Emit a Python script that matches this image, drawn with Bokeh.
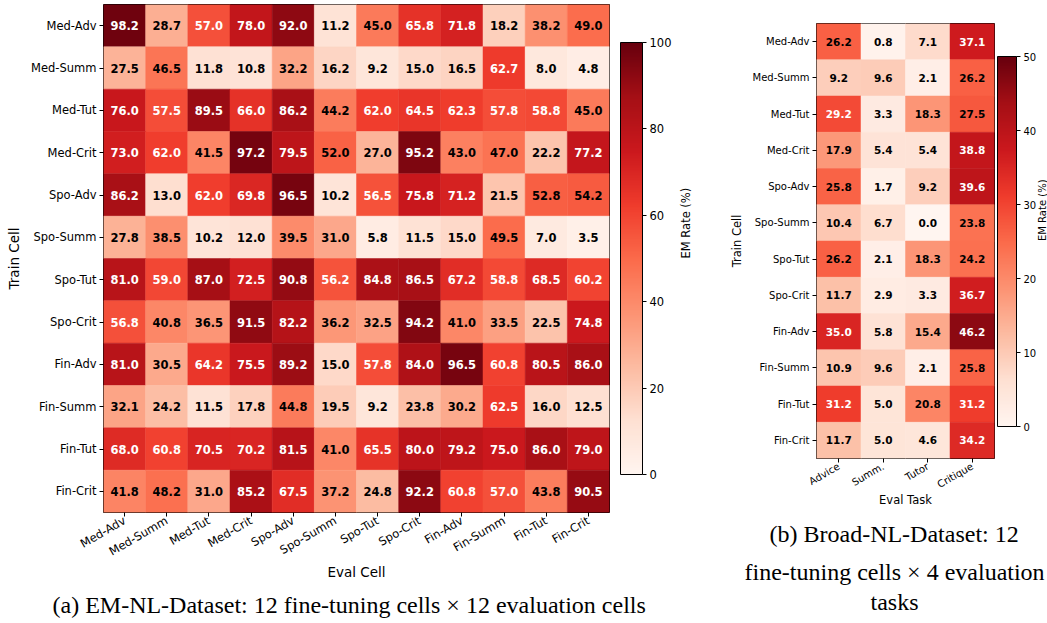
import math
from bokeh.plotting import figure
from bokeh.models import (ColumnDataSource, FactorRange, LinearColorMapper, ColorBar,
                          FixedTicker, Title, CategoricalAxis)
from bokeh.layouts import row, column
from bokeh.palettes import Reds256
from bokeh.core.properties import value
from bokeh.embed import file_html
from bokeh.resources import INLINE

# ---------------- data ----------------
train_cells = ["Med-Adv", "Med-Summ", "Med-Tut", "Med-Crit",
               "Spo-Adv", "Spo-Summ", "Spo-Tut", "Spo-Crit",
               "Fin-Adv", "Fin-Summ", "Fin-Tut", "Fin-Crit"]
eval_cells = list(train_cells)
eval_tasks = ["Advice", "Summ.", "Tutor", "Critique"]

em_nl = [
    [98.2, 28.7, 57.0, 78.0, 92.0, 11.2, 45.0, 65.8, 71.8, 18.2, 38.2, 49.0],
    [27.5, 46.5, 11.8, 10.8, 32.2, 16.2, 9.2, 15.0, 16.5, 62.7, 8.0, 4.8],
    [76.0, 57.5, 89.5, 66.0, 86.2, 44.2, 62.0, 64.5, 62.3, 57.8, 58.8, 45.0],
    [73.0, 62.0, 41.5, 97.2, 79.5, 52.0, 27.0, 95.2, 43.0, 47.0, 22.2, 77.2],
    [86.2, 13.0, 62.0, 69.8, 96.5, 10.2, 56.5, 75.8, 71.2, 21.5, 52.8, 54.2],
    [27.8, 38.5, 10.2, 12.0, 39.5, 31.0, 5.8, 11.5, 15.0, 49.5, 7.0, 3.5],
    [81.0, 59.0, 87.0, 72.5, 90.8, 56.2, 84.8, 86.5, 67.2, 58.8, 68.5, 60.2],
    [56.8, 40.8, 36.5, 91.5, 82.2, 36.2, 32.5, 94.2, 41.0, 33.5, 22.5, 74.8],
    [81.0, 30.5, 64.2, 75.5, 89.2, 15.0, 57.8, 84.0, 96.5, 60.8, 80.5, 86.0],
    [32.1, 24.2, 11.5, 17.8, 44.8, 19.5, 9.2, 23.8, 30.2, 62.5, 16.0, 12.5],
    [68.0, 60.8, 70.5, 70.2, 81.5, 41.0, 65.5, 80.0, 79.2, 75.0, 86.0, 79.0],
    [41.8, 48.2, 31.0, 85.2, 67.5, 37.2, 24.8, 92.2, 60.8, 57.0, 43.8, 90.5],
]

broad_nl = [
    [26.2, 0.8, 7.1, 37.1],
    [9.2, 9.6, 2.1, 26.2],
    [29.2, 3.3, 18.3, 27.5],
    [17.9, 5.4, 5.4, 38.8],
    [25.8, 1.7, 9.2, 39.6],
    [10.4, 6.7, 0.0, 23.8],
    [26.2, 2.1, 18.3, 24.2],
    [11.7, 2.9, 3.3, 36.7],
    [35.0, 5.8, 15.4, 46.2],
    [10.9, 9.6, 2.1, 25.8],
    [31.2, 5.0, 20.8, 31.2],
    [11.7, 5.0, 4.6, 34.2],
]

em_ticks = [0, 20, 40, 60, 80, 100]
broad_ticks = [0, 10, 20, 30, 40, 50]

caption_a = "(a) EM-NL-Dataset: 12 fine-tuning cells \u00d7 12 evaluation cells"
caption_b = ["(b) Broad-NL-Dataset: 12", "fine-tuning cells \u00d7 4 evaluation", "tasks"]

# ---------------- style ----------------
pal = list(Reds256)
def _lum(h):
    h = h.lstrip("#")
    return sum(int(h[i:i + 2], 16) for i in (0, 2, 4))
if _lum(pal[0]) < _lum(pal[-1]):
    pal = pal[::-1]  # light -> dark

SANS = "DejaVu Sans"
SERIF = "Liberation Serif"


def heatmap(matrix, xcats, vmax, ticks, fw, fh, bl, br, bt, bb,
            tick_fs, val_fs, lab_fs, cb_w, cb_h, cb_pad, xlabel, xl_standoff,
            cb_label_standoff):
    mapper = LinearColorMapper(palette=pal, low=0, high=vmax)
    xs, ys, vs, txt, tc = [], [], [], [], []
    for i, r in enumerate(train_cells):
        for j, c in enumerate(xcats):
            v = matrix[i][j]
            xs.append(c); ys.append(r); vs.append(v)
            txt.append(f"{v:.1f}")
            tc.append("white" if v > 0.55 * vmax else "black")
    src = ColumnDataSource(dict(x=xs, y=ys, v=vs, t=txt, tc=tc))

    p = figure(x_range=FactorRange(factors=list(xcats)),
               y_range=FactorRange(factors=train_cells[::-1]),
               frame_width=fw, frame_height=fh, title=None,
               min_border_left=bl, min_border_right=br,
               min_border_top=bt, min_border_bottom=bb,
               toolbar_location=None, output_backend="svg",
               tools="", background_fill_color="white",
               border_fill_color="white")
    p.rect(x="x", y="y", width=1, height=1, source=src,
           fill_color={"field": "v", "transform": mapper},
           line_color={"field": "v", "transform": mapper}, line_width=0.5)
    p.text(x="x", y="y", text="t", source=src, text_color="tc",
           text_align="center", text_baseline="middle",
           text_font=value(SANS), text_font_style="bold",
           text_font_size=f"{val_fs}px")

    p.grid.visible = False
    p.outline_line_color = "black"
    p.outline_line_width = 1
    for ax in (p.xaxis[0], p.yaxis[0]):
        ax.axis_line_color = None
        ax.major_tick_in = 0
        ax.major_tick_out = 4
        ax.major_tick_line_color = "black"
        ax.minor_tick_line_color = None
        ax.major_label_text_font = SANS
        ax.major_label_text_font_size = f"{tick_fs}px"
        ax.major_label_text_color = "black"
        ax.axis_label_text_font = SANS
        ax.axis_label_text_font_style = "normal"
        ax.axis_label_text_font_size = f"{lab_fs}px"
        ax.axis_label_text_color = "black"
        ax.major_label_standoff = 3
    p.xaxis.major_label_orientation = math.pi / 6
    p.xaxis.axis_label = xlabel
    p.yaxis.axis_label = "Train Cell"
    p.xaxis.axis_label_standoff = xl_standoff
    p.yaxis.axis_label_standoff = 6

    cb = ColorBar(color_mapper=mapper, ticker=FixedTicker(ticks=ticks),
                  width=cb_w, height=cb_h, location="center_left",
                  padding=cb_pad, margin=0,
                  major_tick_in=0, major_tick_out=4,
                  major_tick_line_color="black",
                  bar_line_color="black", bar_line_width=1,
                  label_standoff=3,
                  major_label_text_font=SANS,
                  major_label_text_font_size=f"{tick_fs}px",
                  major_label_text_color="black",
                  background_fill_alpha=0,
                  border_line_color=None)
    p.add_layout(cb, "right")

    # colour-bar label: a tick-less axis placed right of the bar
    cax = CategoricalAxis(axis_label="EM Rate (%)",
                          ticker=FixedTicker(ticks=[]),
                          axis_line_color=None, major_tick_line_color=None,
                          minor_tick_line_color=None,
                          major_tick_in=0, major_tick_out=0,
                          major_label_standoff=0,
                          axis_label_standoff=cb_label_standoff,
                          axis_label_text_font=SANS,
                          axis_label_text_font_style="normal",
                          axis_label_text_font_size=f"{tick_fs}px",
                          axis_label_text_color="black")
    try:
        if "axis_label_orientation" in cax.properties():
            cax.axis_label_orientation = math.pi / 2
    except Exception:
        pass
    p.add_layout(cax, "right")
    return p


def caption(p, text, standoff, offset):
    p.add_layout(Title(text=text, align="left", text_font=SERIF,
                       text_font_style="normal", text_font_size="24px",
                       text_color="black", standoff=standoff, offset=offset),
                 "below")


# ---------------- panel (a) ----------------
pa = heatmap(em_nl, eval_cells, 100, em_ticks, 506, 508, 103, 111, 4, 111,
             11.5, 11.5, 13.5, 22, 432, 11, "Eval Cell", -3, 0)
caption(pa, caption_a, 13, -51)

# ---------------- panel (b) ----------------
pb = heatmap(broad_nl, eval_tasks, 50, broad_ticks, 178, 435, 96, 53, 23, 165,
             10, 10.5, 11.5, 19, 370, 3, "Eval Task", -5, 0)
caption(pb, caption_b[0], 18, -47)
caption(pb, caption_b[1], 3, -72)
caption(pb, caption_b[2], 1, 54)

layout = row(column(pa), column(pb), spacing=0)
open("out.html", "w").write(file_html(layout, INLINE))
